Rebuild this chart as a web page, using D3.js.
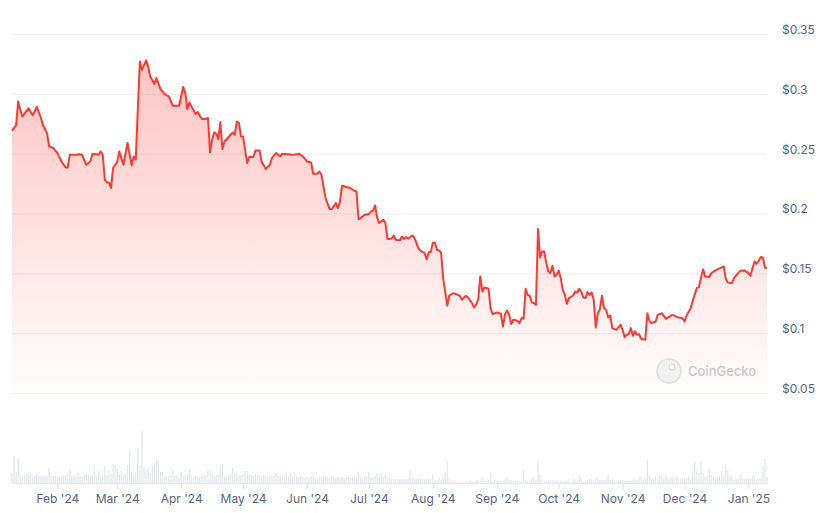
<!DOCTYPE html>
<html>
<head>
<meta charset="utf-8">
<script src="https://cdn.jsdelivr.net/npm/d3@7"></script>
<style>
  body { margin: 0; background: #fff; }
  #chart text { font-family: Inter, "Noto Sans", sans-serif; }
</style>
</head>
<body>
<div id="chart"></div>
<script>

// price points
var priceDates = [
  "2024-01-10","2024-01-12","2024-01-13","2024-01-14","2024-01-15","2024-01-18","2024-01-20","2024-01-22","2024-01-24","2024-01-25","2024-01-27","2024-01-28","2024-01-30",
  "2024-02-01","2024-02-03","2024-02-05","2024-02-06","2024-02-07","2024-02-10","2024-02-11","2024-02-13","2024-02-15","2024-02-17","2024-02-18","2024-02-20","2024-02-21","2024-02-22","2024-02-23","2024-02-24","2024-02-25","2024-02-26","2024-02-27","2024-02-28",
  "2024-03-01","2024-03-02","2024-03-04","2024-03-06","2024-03-08","2024-03-09","2024-03-10","2024-03-11","2024-03-12","2024-03-13","2024-03-15","2024-03-16","2024-03-17","2024-03-19","2024-03-20","2024-03-22","2024-03-24","2024-03-26","2024-03-28","2024-03-31",
  "2024-04-02","2024-04-03","2024-04-04","2024-04-05","2024-04-06","2024-04-08","2024-04-09","2024-04-11","2024-04-13","2024-04-14","2024-04-15","2024-04-16","2024-04-17","2024-04-18","2024-04-19","2024-04-20","2024-04-21","2024-04-22","2024-04-24","2024-04-26","2024-04-27","2024-04-28","2024-04-29","2024-04-30",
  "2024-05-01","2024-05-03","2024-05-04","2024-05-06","2024-05-07","2024-05-09","2024-05-10","2024-05-12","2024-05-14","2024-05-15","2024-05-17","2024-05-19","2024-05-20","2024-05-25","2024-05-28","2024-05-30",
  "2024-06-01","2024-06-03","2024-06-04","2024-06-06","2024-06-07","2024-06-08","2024-06-10","2024-06-12","2024-06-13","2024-06-15","2024-06-16","2024-06-17","2024-06-18","2024-06-20","2024-06-22","2024-06-24","2024-06-25","2024-06-26","2024-06-27","2024-06-29",
  "2024-07-01","2024-07-02","2024-07-03","2024-07-04","2024-07-05","2024-07-06","2024-07-08","2024-07-09","2024-07-10","2024-07-12","2024-07-13","2024-07-14","2024-07-16","2024-07-17","2024-07-18","2024-07-19","2024-07-20","2024-07-22","2024-07-23","2024-07-25","2024-07-26","2024-07-28","2024-07-29","2024-07-30","2024-07-31",
  "2024-08-01","2024-08-02","2024-08-03","2024-08-04","2024-08-05","2024-08-06","2024-08-08","2024-08-09","2024-08-11","2024-08-13","2024-08-14","2024-08-15","2024-08-17","2024-08-18","2024-08-20","2024-08-21","2024-08-22","2024-08-23","2024-08-24","2024-08-25","2024-08-26","2024-08-28","2024-08-29","2024-08-30",
  "2024-09-01","2024-09-03","2024-09-04","2024-09-05","2024-09-06","2024-09-07","2024-09-08","2024-09-09","2024-09-11","2024-09-12","2024-09-13","2024-09-14","2024-09-15","2024-09-16","2024-09-17","2024-09-18","2024-09-19","2024-09-20","2024-09-21","2024-09-22","2024-09-23","2024-09-24","2024-09-25","2024-09-26","2024-09-27","2024-09-28","2024-09-29","2024-09-30",
  "2024-10-01","2024-10-02","2024-10-03","2024-10-04","2024-10-05","2024-10-06","2024-10-08","2024-10-09","2024-10-10","2024-10-11","2024-10-12","2024-10-13","2024-10-14","2024-10-15","2024-10-16","2024-10-17","2024-10-18","2024-10-19","2024-10-20","2024-10-21","2024-10-22","2024-10-23","2024-10-24","2024-10-25","2024-10-26","2024-10-27","2024-10-29","2024-10-31",
  "2024-11-01","2024-11-02","2024-11-03","2024-11-04","2024-11-05","2024-11-06","2024-11-07","2024-11-08","2024-11-09","2024-11-10","2024-11-12","2024-11-13","2024-11-14","2024-11-15","2024-11-17","2024-11-18","2024-11-20","2024-11-22","2024-11-25","2024-11-28","2024-11-30",
  "2024-12-01","2024-12-02","2024-12-04","2024-12-06","2024-12-07","2024-12-08","2024-12-10","2024-12-11","2024-12-13","2024-12-14","2024-12-16","2024-12-19","2024-12-20","2024-12-21","2024-12-22","2024-12-24","2024-12-25","2024-12-27","2024-12-28","2024-12-30",
  "2025-01-01","2025-01-02","2025-01-03","2025-01-04","2025-01-05","2025-01-06","2025-01-07","2025-01-08","2025-01-09","2025-01-10"
];

var prices = [
  0.269,0.274,0.2937,0.2867,0.281,0.288,0.282,0.289,0.280,0.274,0.267,0.256,0.2547,
  0.2505,0.2435,0.2385,0.2385,0.249,0.249,0.2495,0.249,0.2407,0.2435,0.25,0.2495,0.249,0.2519,0.249,0.228,0.226,0.226,0.2213,0.238,
  0.243,0.2519,0.2407,0.2589,0.2402,0.2477,0.245,0.288,0.327,0.320,0.328,0.323,0.3146,0.3082,0.3132,0.304,0.2998,0.2978,0.290,0.290,
  0.3057,0.3007,0.2873,0.2928,0.2895,0.2831,0.2848,0.2789,0.2789,0.2798,0.251,0.2617,0.2677,0.2667,0.2622,0.2764,0.2539,0.2602,0.2639,0.2677,0.2658,0.2769,0.2756,0.2644,
  0.2644,0.2422,0.2472,0.2472,0.2527,0.2527,0.2435,0.2371,0.2407,0.2463,0.2505,0.2477,0.25,0.249,0.25,0.2477,
  0.2435,0.2427,0.2332,0.2332,0.2351,0.2324,0.2129,0.2037,0.2037,0.2087,0.2045,0.2101,0.2232,0.2221,0.2213,0.219,0.2184,0.1953,0.1962,0.1989,
  0.1995,0.2017,0.2023,0.2067,0.1967,0.192,0.1948,0.192,0.1786,0.1789,0.1816,0.178,0.1775,0.1808,0.1786,0.1803,0.1789,0.1816,0.18,0.1711,0.1688,0.1669,0.1619,0.1674,0.1678,
  0.1753,0.1758,0.1697,0.1691,0.1674,0.146,0.1231,0.1315,0.1335,0.132,0.1315,0.128,0.1312,0.1298,0.1251,0.1214,0.124,0.128,0.1474,0.1348,0.1382,0.1371,0.1209,0.1159,
  0.1173,0.1162,0.1056,0.1159,0.1189,0.1153,0.1076,0.1112,0.1103,0.1084,0.1126,0.112,0.1371,0.132,0.1312,0.1256,0.1251,0.1237,0.187,0.1632,0.1682,0.1682,0.1586,0.1515,0.1502,0.1563,0.1474,0.1488,
  0.1524,0.146,0.1362,0.132,0.1245,0.1293,0.1315,0.1348,0.134,0.1371,0.1343,0.1298,0.1293,0.1343,0.132,0.134,0.128,0.1047,0.1167,0.1201,0.1312,0.1209,0.1195,0.1131,0.1148,0.1042,0.1028,0.107,
  0.1028,0.0967,0.0986,0.0994,0.1042,0.0978,0.1015,0.0986,0.0992,0.0953,0.0944,0.1167,0.1103,0.1084,0.1097,0.1153,0.1167,0.112,0.1153,0.1131,0.1126,
  0.1097,0.1148,0.1209,0.1326,0.1377,0.1385,0.1535,0.1474,0.1469,0.1502,0.1524,0.1549,0.1557,0.1454,0.1423,0.1418,0.146,0.1502,0.1521,0.1524,
  0.1502,0.1479,0.1544,0.1599,0.158,0.1605,0.1636,0.1632,0.1549,0.1544
];

// daily volume bars, one per day from volumeStart (arbitrary units, read as bar heights)
var volumeStart = "2024-01-10";
var volumes = [
  10,27,11,24,9,7,7,9,9,10,   6,7,10,7,7,7,7,7,15,7,
  7,7,6,6,7,8,8,9,14,8,       7,6,10,7,6,8,9,8,7,9,
  17,8,12,7,9,17,8,13,9,19,   18,14,8,12,7,9,18,33,11,9,
  10,35,18,52,16,13,15,10,18,20, 23,23,11,11,7,6,7,8,12,7,
  8,6,11,7,7,9,14,7,6,7,      7,6,7,8,8,13,12,10,7,8,
  8,18,18,6,6,7,8,15,9,10,    8,8,9,12,12,7,8,7,9,7,
  8,7,8,7,6,8,8,7,10,7,       7,8,7,9,7,9,7,9,7,6,
  7,6,5,6,5,7,9,6,5,7,        6,7,8,6,5,7,6,5,6,5,
  6,5,6,6,5,6,7,6,11,6,       5,6,7,11,6,5,7,9,6,9,
  6,9,6,5,4,4,4,4,4,4,        4,4,5,13,5,4,4,4,4,4,
  4,4,4,4,9,3,3,5,3,5,        11,22,4,1,1,1,1,1,1,1,
  2,2,3,2,2,3,3,2,6,2,        2,3,10,2,3,2,2,2,2,5,
  6,3,3,2,2,2,2,2,13,3,       2,3,5,5,3,23,8,3,2,2,
  3,3,3,3,2,2,3,2,2,3,        4,2,4,4,3,7,4,2,2,3,
  4,3,3,5,5,3,3,3,3,8,        3,4,3,2,2,2,3,2,2,2,
  3,4,5,3,6,6,3,5,23,8,       4,4,6,4,8,6,5,8,4,4,
  6,4,6,5,4,5,6,4,6,4,        11,22,12,10,22,10,6,8,14,8,
  6,4,5,7,12,7,19,13,8,7,     3,4,4,8,5,4,5,4,4,7,
  7,4,4,4,17,24,6
];

var priceTicks = [0.05, 0.1, 0.15, 0.2, 0.25, 0.3, 0.35];
var priceTickLabels = ["$0.05", "$0.1", "$0.15", "$0.2", "$0.25", "$0.3", "$0.35"];
var monthTicks = ["2024-02-01","2024-03-01","2024-04-01","2024-05-01","2024-06-01","2024-07-01",
                  "2024-08-01","2024-09-01","2024-10-01","2024-11-01","2024-12-01","2025-01-01"];
var dateRange = ["2024-01-10", "2025-01-10"];

var width = 828, height = 513;
var plot = {left: 12, right: 767, top: 34, bottom: 393};
var volBase = 483, volTop = 431;
var red = "#ff3a33";

var parse = d3.timeParse("%Y-%m-%d");

var svg = d3.select("#chart")
  .append("svg")
    .attr("width", width)
    .attr("height", height);

var x = d3.scaleTime()
    .domain(dateRange.map(parse))
    .range([plot.left, plot.right]);

var y = d3.scaleLinear()
    .domain([0.05, 0.35])
    .range([plot.bottom, plot.top]);

var yVol = d3.scaleLinear()
    .domain([0, d3.max(volumes)])
    .range([volBase, volTop]);

var data = priceDates.map((d, i) => ({date: parse(d), price: prices[i]}));
var start = parse(volumeStart);
var volData = volumes.map((v, i) => ({date: d3.timeDay.offset(start, i), vol: v}));

// gridlines + right price labels
var yAxis = d3.axisRight(y)
    .tickValues(priceTicks)
    .tickFormat((d, i) => priceTickLabels[i])
    .tickSizeInner(-(plot.right - plot.left))
    .tickSizeOuter(0)
    .tickPadding(15);

var gy = svg.append("g")
    .attr("transform", "translate(" + plot.right + ",0)")
    .call(yAxis);
gy.select(".domain").remove();
gy.selectAll(".tick line").attr("stroke", "#eceef1");
gy.selectAll(".tick text")
    .attr("dy", "-0.05em")
    .attr("fill", "#58667e")
    .style("font-size", "12px");

// gradient for area
var defs = svg.append("defs");
var grad = defs.append("linearGradient")
    .attr("id", "areaGrad")
    .attr("gradientUnits", "userSpaceOnUse")
    .attr("x1", 0).attr("x2", 0)
    .attr("y1", y(0.33)).attr("y2", plot.bottom);
grad.append("stop").attr("offset", "0%").attr("stop-color", red).attr("stop-opacity", 0.3);
grad.append("stop").attr("offset", "100%").attr("stop-color", red).attr("stop-opacity", 0.01);

svg.append("path")
    .datum(data)
    .attr("fill", "url(#areaGrad)")
    .attr("d", d3.area()
      .x(d => x(d.date))
      .y0(plot.bottom)
      .y1(d => y(d.price)));

svg.append("path")
    .datum(data)
    .attr("fill", "none")
    .attr("stroke", red)
    .attr("stroke-width", 2)
    .attr("stroke-linejoin", "round")
    .attr("d", d3.line()
      .x(d => x(d.date))
      .y(d => y(d.price)));

// watermark
var wm = svg.append("g").attr("opacity", 0.9);
wm.append("circle")
    .attr("cx", 669).attr("cy", 371).attr("r", 12)
    .attr("fill", "#f1f1f1").attr("stroke", "#dcdcdc").attr("stroke-width", 1.5);
wm.append("circle")
    .attr("cx", 672).attr("cy", 367).attr("r", 3)
    .attr("fill", "#fff").attr("stroke", "#d0d0d0");
wm.append("text")
    .attr("x", 688).attr("y", 376)
    .attr("fill", "#c4c4c4")
    .style("font-size", "13px")
    .style("font-weight", 500)
    .text("CoinGecko");

// volume bars
svg.append("g")
  .selectAll("rect")
  .data(volData)
  .enter()
  .append("rect")
    .attr("x", d => x(d.date) - 0.6)
    .attr("width", 1.2)
    .attr("y", d => yVol(d.vol))
    .attr("height", d => volBase - yVol(d.vol))
    .attr("fill", "#e3e6ea");

// x axis
var xAxis = d3.axisBottom(x)
    .tickValues(monthTicks.map(parse))
    .tickFormat(d3.timeFormat("%b '%y"))
    .tickSizeInner(6)
    .tickSizeOuter(0)
    .tickPadding(5);

var gx = svg.append("g")
    .attr("transform", "translate(0," + volBase + ")")
    .call(xAxis);
gx.select(".domain").attr("stroke", "#e6e8eb");
gx.selectAll(".tick line").attr("stroke", "#e0e3e7");
gx.selectAll(".tick text")
    .attr("fill", "#58667e")
    .style("font-size", "12px");

</script>
</body>
</html>
